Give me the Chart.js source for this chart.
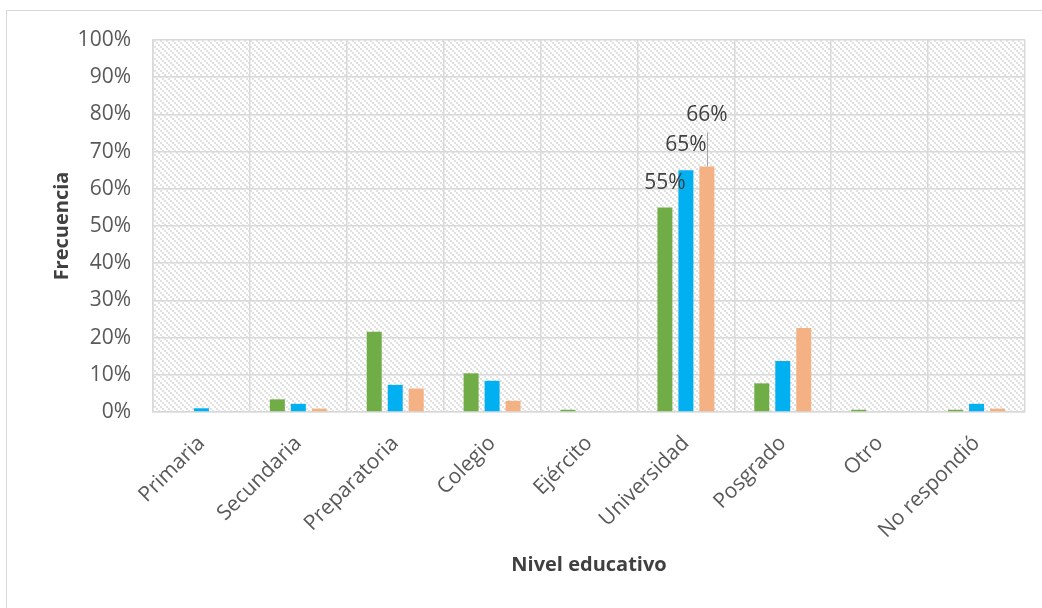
<!DOCTYPE html>
<html>
<head>
<meta charset="utf-8">
<script src="https://cdn.jsdelivr.net/npm/chart.js@4/dist/chart.umd.min.js"></script>
<style>
  html, body { margin: 0; padding: 0; background: #ffffff; }
  #wrap { width: 1042px; height: 608px; position: relative; }
</style>
</head>
<body>
<div id="wrap"><canvas id="c" width="1042" height="608"></canvas></div>
<script>
// Education level categories
const categories = ['Primaria', 'Secundaria', 'Preparatoria', 'Colegio', 'Ejército',
                    'Universidad', 'Posgrado', 'Otro', 'No respondió'];

// Share of respondents (%) per group
const grupoA = [0, 3.4, 21.6, 10.4, 0.6, 55, 7.7, 0.6, 0.6];
const grupoB = [1.0, 2.2, 7.3, 8.4, 0, 65, 13.7, 0, 2.2];
const grupoC = [0, 0.9, 6.3, 3.0, 0, 66, 22.6, 0, 0.9];

// Y axis tick values
const yTicks = [0, 10, 20, 30, 40, 50, 60, 70, 80, 90, 100];

// Values that get a text label on top of their bar: [dataset index, category index]
const labelled = [[0, 5], [1, 5], [2, 5]];

const FONT = "'Open Sans', 'DejaVu Sans', sans-serif";
const GRID = '#d9d9d9';

// Diagonal hatch used as the plot area background
function makeHatch(ctx) {
  const tile = document.createElement('canvas');
  tile.width = 6; tile.height = 6;
  const t = tile.getContext('2d');
  t.fillStyle = '#e1e1e1';
  for (let x = 0; x < 6; x++) {
    for (let y = 0; y < 6; y++) {
      const d = ((Math.floor(x / 2) - Math.floor(y / 2)) % 3 + 3) % 3;
      if (d === 0) t.fillRect(x, y, 1, 1);
    }
  }
  return ctx.createPattern(tile, 'repeat');
}

const backdrop = {
  id: 'backdrop',
  beforeDraw(chart) {
    const {ctx, chartArea: a} = chart;
    ctx.save();
    ctx.fillStyle = '#ffffff';
    ctx.fillRect(0, 0, chart.width, chart.height);
    // outer frame of the chart
    ctx.strokeStyle = GRID;
    ctx.lineWidth = 1;
    ctx.strokeRect(6.5, 10.5, 1045, 610);
    ctx.fillStyle = makeHatch(ctx);
    ctx.fillRect(a.left, a.top, a.right - a.left, a.bottom - a.top);
    ctx.restore();
  }
};

// Value labels above the Universidad bars (the highest one uses a leader line)
const valueLabels = {
  id: 'valueLabels',
  afterDatasetsDraw(chart) {
    const {ctx} = chart;
    ctx.save();
    ctx.font = '21px ' + FONT;
    ctx.fillStyle = '#404040';
    ctx.textAlign = 'center';
    ctx.textBaseline = 'middle';
    labelled.forEach(([ds, idx], k) => {
      const bar = chart.getDatasetMeta(ds).data[idx];
      const v = chart.data.datasets[ds].data[idx];
      const txt = Math.round(v) + '%';
      const lift = k === 2 ? 51 : (k === 1 ? 25.5 : 24);
      const cy = bar.y - lift;
      ctx.fillText(txt, bar.x, cy);
      if (k === 2) {
        ctx.strokeStyle = '#a6a6a6';
        ctx.lineWidth = 1;
        ctx.beginPath();
        ctx.moveTo(Math.round(bar.x) + 0.5, cy + 17);
        ctx.lineTo(Math.round(bar.x) + 0.5, bar.y);
        ctx.stroke();
      }
    });
    ctx.restore();
  }
};

const barStyle = {categoryPercentage: 0.65, barPercentage: 0.714, borderWidth: 0};

new Chart(document.getElementById('c'), {
  type: 'bar',
  data: {
    labels: categories,
    datasets: [
      Object.assign({label: 'Grupo A', data: grupoA, backgroundColor: '#70ad47'}, barStyle),
      Object.assign({label: 'Grupo B', data: grupoB, backgroundColor: '#00b0f0'}, barStyle),
      Object.assign({label: 'Grupo C', data: grupoC, backgroundColor: '#f4b183'}, barStyle)
    ]
  },
  options: {
    responsive: false,
    animation: false,
    devicePixelRatio: 1,
    layout: {padding: {top: 40, right: 17, left: 0, bottom: 0}},
    plugins: {legend: {display: false}, tooltip: {enabled: false}},
    scales: {
      x: {
        grid: {color: GRID, lineWidth: 1.5, offset: true, drawTicks: false},
        border: {color: GRID, width: 1.5},
        ticks: {
          color: '#595959',
          font: {family: FONT, size: 21},
          minRotation: 45, maxRotation: 45,
          padding: 19
        },
        title: {
          display: true, text: 'Nivel educativo', color: '#404040',
          font: {family: FONT, size: 20, weight: 'bold'},
          padding: {top: 0, bottom: 31}
        },
        afterFit(scale) { scale.height = 196; }
      },
      y: {
        min: 0, max: 100,
        afterBuildTicks(scale) { scale.ticks = yTicks.map(v => ({value: v})); },
        grid: {color: GRID, lineWidth: 1.5, drawTicks: false},
        border: {color: GRID, width: 1.5},
        ticks: {
          color: '#595959',
          font: {family: FONT, size: 21},
          padding: 22,
          callback: v => v + '%'
        },
        title: {
          display: true, text: 'Frecuencia', color: '#404040',
          font: {family: FONT, size: 20, weight: 'bold'},
          padding: {top: 50, bottom: 0}
        },
        afterFit(scale) { scale.width = 153; }
      }
    }
  },
  plugins: [backdrop, valueLabels]
});
</script>
</body>
</html>
